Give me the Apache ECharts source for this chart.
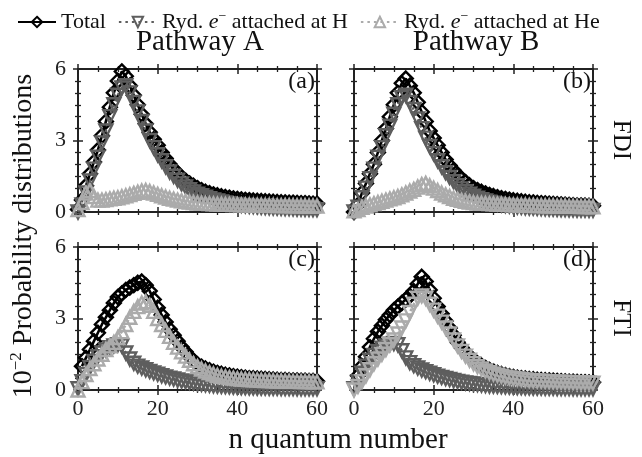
<!DOCTYPE html>
<html>
<head>
<meta charset="utf-8">
<script src="https://cdn.jsdelivr.net/npm/echarts@6/dist/echarts.min.js"></script>
<style>
  html, body { margin: 0; padding: 0; background: #fff; }
  #chart { width: 642px; height: 457px; }
</style>
</head>
<body>
<div id="chart"></div>
<script>
// n quantum number
const nQuantum = [0,1,2,3,4,5,6,7,8,9,10,11,12,13,14,15,16,17,18,19,20,21,22,23,24,25,26,27,28,29,30,
  31,32,33,34,35,36,37,38,39,40,41,42,43,44,45,46,47,48,49,50,51,52,53,54,55,56,57,58,59,60];

// (a) Pathway A, FDI
const totalA = [0.1,0.5,1.1,1.6,2.1,2.6,3.2,3.8,4.4,5.0,5.5,5.9,5.7,5.3,4.9,4.5,4.1,3.7,3.35,3.05,2.8,
  2.5,2.25,2.0,1.8,1.62,1.46,1.32,1.2,1.1,1.0,0.92,0.85,0.79,0.74,0.7,0.66,0.63,0.6,0.57,0.55,
  0.53,0.51,0.5,0.48,0.47,0.46,0.45,0.44,0.43,0.42,0.41,0.4,0.39,0.39,0.38,0.37,0.37,0.36,0.35,0.35];
const hydA = [0.0,0.3,0.8,1.3,1.8,2.3,2.9,3.4,4.0,4.5,4.9,5.2,5.3,5.0,4.6,4.2,3.8,3.4,3.0,2.7,2.4,
  2.15,1.9,1.68,1.5,1.33,1.18,1.05,0.94,0.84,0.75,0.68,0.62,0.56,0.51,0.46,0.42,0.38,0.35,0.32,0.3,
  0.28,0.26,0.24,0.23,0.22,0.2,0.19,0.18,0.17,0.16,0.15,0.14,0.14,0.13,0.12,0.12,0.11,0.11,0.1,0.1];
const heA = [0.1,0.4,0.8,0.9,0.65,0.5,0.5,0.52,0.55,0.58,0.6,0.64,0.68,0.73,0.78,0.83,0.88,0.9,0.86,0.8,0.74,
  0.68,0.63,0.58,0.54,0.5,0.47,0.44,0.42,0.4,0.38,0.37,0.36,0.35,0.34,0.33,0.33,0.32,0.32,0.31,0.31,
  0.3,0.3,0.3,0.29,0.29,0.29,0.28,0.28,0.28,0.27,0.27,0.27,0.27,0.26,0.26,0.26,0.26,0.25,0.25,0.25];

// (b) Pathway B, FDI
const totalB = [0.0,0.3,0.8,1.2,1.6,2.0,2.5,3.0,3.5,4.0,4.5,5.0,5.4,5.6,5.3,5.0,4.6,4.2,3.8,3.4,3.1,
  2.8,2.5,2.2,1.95,1.75,1.55,1.4,1.25,1.12,1.0,0.92,0.85,0.78,0.72,0.67,0.62,0.58,0.55,0.52,0.49,
  0.47,0.45,0.43,0.41,0.4,0.38,0.37,0.36,0.35,0.34,0.33,0.32,0.31,0.3,0.29,0.28,0.28,0.27,0.26,0.26];
const hydB = [0.0,0.2,0.6,1.0,1.4,1.8,2.3,2.7,3.2,3.6,4.1,4.5,4.8,4.9,4.6,4.3,3.9,3.5,3.1,2.75,2.45,
  2.15,1.9,1.65,1.45,1.27,1.1,0.97,0.85,0.75,0.66,0.58,0.52,0.46,0.41,0.37,0.33,0.3,0.27,0.25,0.23,
  0.21,0.2,0.18,0.17,0.16,0.15,0.14,0.13,0.12,0.12,0.11,0.1,0.1,0.09,0.09,0.08,0.08,0.08,0.07,0.07];
const heB = [0.05,0.1,0.2,0.25,0.3,0.35,0.4,0.45,0.5,0.55,0.6,0.65,0.72,0.8,0.88,0.95,1.05,1.15,1.2,1.1,1.0,
  0.9,0.8,0.72,0.65,0.58,0.53,0.49,0.45,0.42,0.4,0.38,0.37,0.36,0.35,0.34,0.33,0.33,0.32,0.31,0.3,
  0.3,0.29,0.29,0.28,0.28,0.27,0.27,0.26,0.26,0.26,0.25,0.25,0.25,0.24,0.24,0.24,0.23,0.23,0.23,0.22];

// (c) Pathway A, FTI
const totalC = [null,1.0,1.35,1.7,2.05,2.4,2.75,3.05,3.35,3.65,3.9,4.05,4.2,4.3,4.4,4.5,4.55,4.4,4.15,3.8,3.45,
  3.15,2.85,2.55,2.3,2.05,1.8,1.6,1.4,1.22,1.08,0.98,0.9,0.83,0.77,0.72,0.68,0.64,0.61,0.58,0.56,
  0.54,0.52,0.5,0.49,0.48,0.47,0.46,0.45,0.44,0.43,0.42,0.42,0.41,0.4,0.4,0.39,0.39,0.38,0.38,0.37];
const hydC = [0.05,0.35,0.65,0.95,1.2,1.4,1.55,1.68,1.78,1.85,1.9,1.85,1.55,1.3,1.12,1.0,0.92,0.85,0.78,0.72,0.66,
  0.6,0.55,0.5,0.46,0.42,0.38,0.35,0.32,0.29,0.26,0.24,0.22,0.2,0.18,0.16,0.15,0.14,0.13,0.12,0.11,
  0.1,0.1,0.09,0.09,0.08,0.08,0.08,0.07,0.07,0.07,0.06,0.06,0.06,0.06,0.05,0.05,0.05,0.05,0.05,0.05];
const heC = [0.0,0.35,0.65,0.9,1.1,1.3,1.5,1.7,1.85,2.0,2.2,2.45,2.75,3.05,3.3,3.5,3.65,3.7,3.55,3.3,3.0,
  2.75,2.5,2.25,2.0,1.8,1.6,1.42,1.25,1.1,0.98,0.88,0.8,0.73,0.67,0.62,0.58,0.55,0.52,0.5,0.48,
  0.46,0.45,0.44,0.43,0.42,0.41,0.4,0.4,0.39,0.38,0.38,0.37,0.37,0.36,0.36,0.35,0.35,0.35,0.34,0.34];

// (d) Pathway B, FTI
const totalD = [null,0.6,1.0,1.4,1.8,2.15,2.45,2.7,2.95,3.15,3.35,3.5,3.65,3.8,3.95,4.15,4.45,4.75,4.55,4.2,3.85,
  3.5,3.2,2.9,2.6,2.3,2.0,1.78,1.58,1.4,1.25,1.12,1.02,0.93,0.85,0.78,0.72,0.67,0.62,0.58,0.55,
  0.52,0.5,0.48,0.46,0.45,0.43,0.42,0.41,0.4,0.39,0.38,0.37,0.36,0.35,0.35,0.34,0.33,0.33,0.32,0.32];
const hydD = [0.05,0.35,0.7,1.0,1.25,1.45,1.62,1.75,1.85,1.92,1.95,1.9,1.65,1.35,1.15,1.02,0.92,0.84,0.77,0.7,0.64,
  0.58,0.53,0.48,0.44,0.4,0.36,0.33,0.3,0.27,0.25,0.23,0.21,0.19,0.17,0.16,0.15,0.14,0.13,0.12,0.11,
  0.1,0.1,0.09,0.09,0.08,0.08,0.08,0.07,0.07,0.07,0.06,0.06,0.06,0.06,0.05,0.05,0.05,0.05,0.05,0.05];
const heD = [0.0,0.15,0.35,0.6,0.85,1.1,1.3,1.5,1.7,1.9,2.1,2.35,2.6,2.9,3.25,3.6,3.85,3.95,3.85,3.6,3.35,
  3.1,2.85,2.6,2.35,2.1,1.85,1.62,1.42,1.25,1.1,0.98,0.88,0.8,0.73,0.67,0.62,0.58,0.54,0.51,0.48,
  0.46,0.44,0.42,0.4,0.39,0.38,0.37,0.36,0.35,0.34,0.33,0.33,0.32,0.32,0.31,0.31,0.3,0.3,0.3,0.29];

const seriesNames = ["Total", "Ryd. e⁻ attached at H", "Ryd. e⁻ attached at He"];
const xTicks = [0, 20, 40, 60];
const yTicks = [0, 3, 6];

const FONT = "Liberation Serif";
const AXIS_COLOR = "#222";

const panels = [
  { label: "(a)", left: 78, top: 69, vals: [totalA, hydA, heA], heDown: false },
  { label: "(b)", left: 354, top: 69, vals: [totalB, hydB, heB], heDown: false },
  { label: "(c)", left: 78, top: 247, vals: [totalC, hydC, heC], heDown: false },
  { label: "(d)", left: 354, top: 247, vals: [totalD, hydD, heD], heDown: true },
];
const PW = 239, PH = 143;

const chart = echarts.init(document.getElementById("chart"));

const grids = [], xAxes = [], yAxes = [], series = [], graphics = [];

panels.forEach((p, g) => {
  grids.push({ left: p.left, top: p.top, width: PW, height: PH });

  const bottomRow = g >= 2, leftCol = g % 2 === 0;
  const primaryX = xAxes.length, primaryY = yAxes.length;

  // four copies per direction so the ticks cross the frame
  [["bottom", true], ["bottom", false], ["top", true], ["top", false]].forEach(([pos, inside], k) => {
    xAxes.push({
      gridIndex: g, type: "value", min: 0, max: 60, interval: 20, position: pos,
      axisLine: { show: true, onZero: false, lineStyle: { color: AXIS_COLOR, width: 1.8 } },
      axisTick: { show: true, inside: inside, length: 5, lineStyle: { color: AXIS_COLOR, width: 1.5 } },
      minorTick: { show: true, splitNumber: 4, length: 3, lineStyle: { color: AXIS_COLOR, width: 1.3 } },
      axisLabel: {
        show: k === 1 && bottomRow, margin: 8, color: "#222",
        fontFamily: FONT, fontSize: 22,
        formatter: (v) => (xTicks.includes(v) ? String(v) : ""),
      },
      splitLine: { show: false },
    });
  });
  [["left", true], ["left", false], ["right", true], ["right", false]].forEach(([pos, inside], k) => {
    yAxes.push({
      gridIndex: g, type: "value", min: 0, max: 6, interval: 3, position: pos,
      axisLine: { show: true, onZero: false, lineStyle: { color: AXIS_COLOR, width: 1.8 } },
      axisTick: { show: true, inside: inside, length: 5, lineStyle: { color: AXIS_COLOR, width: 1.5 } },
      minorTick: { show: true, splitNumber: 6, length: 3, lineStyle: { color: AXIS_COLOR, width: 1.3 } },
      axisLabel: {
        show: k === 1 && leftCol, margin: 12, color: "#222",
        fontFamily: FONT, fontSize: 22,
        formatter: (v) => (yTicks.includes(v) ? String(v) : ""),
      },
      splitLine: { show: false },
    });
  });

  const styles = [
    { color: "#000", symbol: "diamond", size: 14, rot: 0, type: "solid" },
    { color: "#5e5e5e", symbol: "triangle", size: 13, rot: 180, type: [2.5, 4] },
    { color: "#ababab", symbol: "triangle", size: 13, rot: p.heDown ? 180 : 0, type: [2.5, 4] },
  ];
  p.vals.forEach((vals, s) => {
    const st = styles[s];
    series.push({
      name: seriesNames[s],
      type: "line",
      xAxisIndex: primaryX,
      yAxisIndex: primaryY,
      data: nQuantum.map((n, i) => [n, vals[i]]),
      connectNulls: false,
      clip: false,
      symbol: st.symbol,
      symbolSize: st.size,
      symbolRotate: st.rot,
      showSymbol: true,
      showAllSymbol: true,
      lineStyle: { color: st.color, width: 2.6, type: st.type },
      itemStyle: { color: "rgba(255,255,255,0)", borderColor: st.color, borderWidth: 2.4 },
      emphasis: { disabled: true },
      z: 2 + s,
    });
  });

  graphics.push({
    type: "text", x: p.left + PW - 2, y: p.top + 13,
    style: { text: p.label, font: "24px '" + FONT + "'", fill: "#111", align: "right", verticalAlign: "middle" },
  });
});

graphics.push(
  { type: "text", x: 200, y: 42,
    style: { text: "Pathway A", font: "29px '" + FONT + "'", fill: "#111", align: "center", verticalAlign: "middle" } },
  { type: "text", x: 476, y: 42,
    style: { text: "Pathway B", font: "29px '" + FONT + "'", fill: "#111", align: "center", verticalAlign: "middle" } },
  { type: "text", x: 338, y: 440,
    style: { text: "n quantum number", font: "29px '" + FONT + "'", fill: "#111", align: "center", verticalAlign: "middle" } },
  { type: "text", x: 621, y: 140, rotation: -Math.PI / 2,
    style: { text: "FDI", font: "25px '" + FONT + "'", fill: "#111", align: "center", verticalAlign: "middle" } },
  { type: "text", x: 621, y: 318, rotation: -Math.PI / 2,
    style: { text: "FTI", font: "25px '" + FONT + "'", fill: "#111", align: "center", verticalAlign: "middle" } },
  { type: "text", x: 24, y: 236, rotation: Math.PI / 2,
    style: {
      text: "{n|10}{s|−2}{n| Probability distributions}",
      font: "28px '" + FONT + "'", fill: "#111", align: "center", verticalAlign: "middle",
      rich: {
        n: { fontFamily: FONT, fontSize: 28, lineHeight: 32, fill: "#111" },
        s: { fontFamily: FONT, fontSize: 17, lineHeight: 32, verticalAlign: "top", fill: "#111" },
      },
    } }
);

const option = {
  animation: false,
  backgroundColor: "#fff",
  legend: {
    data: seriesNames,
    left: 12, top: 4,
    itemWidth: 38, itemHeight: 13, itemGap: 12,
    textStyle: {
      fontFamily: FONT, fontSize: 22, color: "#111",
      rich: {
        n: { fontFamily: FONT, fontSize: 22, lineHeight: 26, color: "#111" },
        i: { fontFamily: FONT, fontSize: 22, lineHeight: 26, fontStyle: "italic", color: "#111" },
        s: { fontFamily: FONT, fontSize: 14, lineHeight: 26, verticalAlign: "top", color: "#111" },
      },
    },
    formatter: (name) => {
      if (name === "Total") return "{n|Total}";
      const tail = name.endsWith("He") ? "He" : "H";
      return "{n|Ryd. }{i|e}{s|−}{n| attached at " + tail + "}";
    },
  },
  grid: grids,
  xAxis: xAxes,
  yAxis: yAxes,
  series: series,
  graphic: graphics,
};

chart.setOption(option);
</script>
</body>
</html>
